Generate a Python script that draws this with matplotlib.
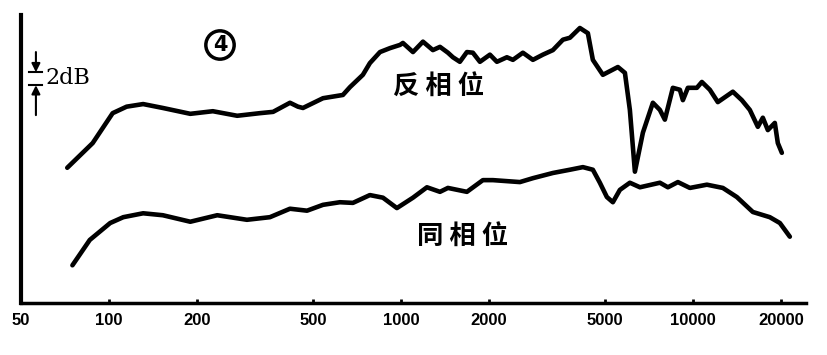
import matplotlib
matplotlib.use("Agg")
import matplotlib.pyplot as plt
import matplotlib.transforms as mtransforms

# frequency response (Hz, dB above the x axis)
freq_anti = [72, 88, 103, 115, 131, 153, 190, 227, 275, 329,
             365, 417, 444, 462, 541, 633, 669, 741, 783, 848,
             917, 993, 1016, 1100, 1190, 1287, 1361, 1449, 1507, 1592,
             1683, 1764, 1865, 2018, 2132, 2307, 2419, 2617, 2832, 3064,
             3316, 3588, 3792, 4102, 4369, 4544, 4917, 5536, 5851, 6084,
             6330, 6742, 7294, 7709, 8017, 8540, 9025, 9242, 9611, 10320,
             10734, 11431, 12173, 13704, 14712, 15668, 16691, 17360, 18060, 19081,
             19538, 20170]
db_anti = [20.8, 24.6, 29.2, 30.2, 30.6, 30.0, 29.1, 29.5, 28.8, 29.2,
           29.4, 30.8, 30.2, 30.0, 31.5, 32.0, 33.2, 35.1, 36.9, 38.6,
           39.2, 39.7, 40.0, 38.6, 40.2, 38.9, 39.4, 38.5, 37.8, 37.1,
           38.6, 38.5, 37.1, 38.2, 37.1, 37.8, 37.4, 38.5, 37.4, 38.2,
           38.9, 40.5, 40.8, 42.3, 41.5, 37.4, 35.1, 36.3, 35.4, 29.7,
           20.2, 26.2, 30.8, 29.7, 28.2, 33.1, 32.8, 31.2, 33.1, 33.1,
           34.0, 32.8, 30.9, 32.5, 31.2, 29.7, 27.1, 28.5, 26.6, 27.7,
           24.6, 23.1]

freq_in = [75, 86, 101, 112, 131, 153, 190, 235, 297, 356,
           417, 477, 541, 618, 685, 783, 868, 969, 1100, 1228,
           1361, 1449, 1683, 1909, 2066, 2556, 2832, 3316, 3792, 4201,
           4544, 4802, 5075, 5321, 5623, 6084, 6587, 7709, 8212, 8885,
           9767, 11168, 12665, 14143, 16045, 18343, 19860, 21480]
db_in = [5.8, 9.7, 12.3, 13.2, 13.8, 13.5, 12.5, 13.5, 12.8, 13.2,
         14.5, 14.2, 15.1, 15.5, 15.4, 16.6, 16.2, 14.6, 16.2, 17.8,
         17.1, 17.7, 17.1, 18.9, 18.9, 18.6, 19.2, 20.0, 20.5, 20.9,
         20.5, 18.5, 16.3, 15.5, 17.4, 18.5, 17.8, 18.5, 17.8, 18.6,
         17.7, 18.2, 17.7, 16.3, 14.0, 13.2, 12.3, 10.2]

xticks = [50, 100, 200, 500, 1000, 2000, 5000, 10000, 20000]
xtick_labels = ["50", "100", "200", "500", "1000", "2000", "5000", "10000", "20000"]

label_anti = "反 相 位"
label_in = "同 相 位"
panel_no = "4"

W, H = 828, 355
fig = plt.figure(figsize=(W / 100, H / 100), dpi=100)
ax = fig.add_axes([21 / W, 1 - 303 / H, 785 / W, 288 / H])

ax.plot(freq_anti, db_anti, color="black", lw=3.3,
        solid_joinstyle="round", solid_capstyle="round")
ax.plot(freq_in, db_in, color="black", lw=3.3,
        solid_joinstyle="round", solid_capstyle="round")

ax.set_xscale("log")
ax.set_xlim(50, 24400)
ax.set_ylim(0, 44.3)
ax.set_xticks(xticks)
ax.set_xticklabels(xtick_labels, fontfamily="Liberation Sans",
                   fontweight="bold", fontsize=12)
ax.minorticks_off()
ax.set_yticks([])
ax.tick_params(axis="x", direction="in", length=3, width=2, pad=7)

for side in ["top", "right"]:
    ax.spines[side].set_visible(False)
ax.spines["left"].set_linewidth(3)
ax.spines["bottom"].set_linewidth(2.5)

# 2 dB scale marker on the left
trans = mtransforms.blended_transform_factory(ax.transAxes, ax.transData)
xm = 0.019
ax.annotate("", xy=(xm, 35.5), xytext=(xm, 38.6), xycoords=trans,
            textcoords=trans,
            arrowprops=dict(arrowstyle="-|>,head_length=0.5,head_width=0.25",
                            color="black", lw=1.5, shrinkA=0, shrinkB=0))
ax.annotate("", xy=(xm, 33.5), xytext=(xm, 28.9), xycoords=trans,
            textcoords=trans,
            arrowprops=dict(arrowstyle="-|>,head_length=0.5,head_width=0.25",
                            color="black", lw=1.5, shrinkA=0, shrinkB=0))
ax.plot([0.010, 0.027], [35.5, 35.5], color="black", lw=1.5, transform=trans)
ax.plot([0.010, 0.027], [33.5, 33.5], color="black", lw=1.5, transform=trans)
ax.text(0.031, 34.6, "2dB", transform=trans, fontfamily="DejaVu Serif",
        fontsize=16, va="center", ha="left")

cjk = ["Noto Sans CJK SC", "DejaVu Sans"]
fig.text(439 / W, 1 - 87 / H, label_anti, family=cjk, fontsize=19,
         fontweight="bold", ha="center", va="center")
fig.text(463 / W, 1 - 237 / H, label_in, family=cjk, fontsize=19,
         fontweight="bold", ha="center", va="center")

fig.text(220 / W, 1 - 45 / H, panel_no, fontfamily="DejaVu Sans",
         fontweight="bold", fontsize=15, ha="center", va="center",
         bbox=dict(boxstyle="circle,pad=0.2", fc="white", ec="black", lw=2.5))

fig.savefig("out.png", dpi=100)
